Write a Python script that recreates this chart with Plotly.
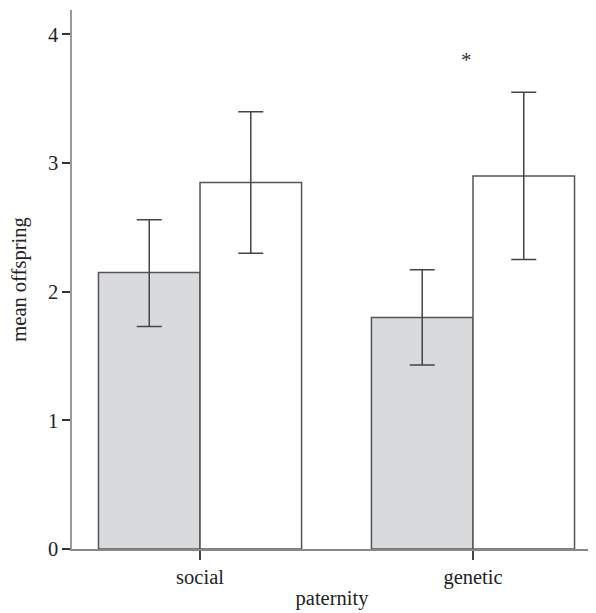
import plotly.graph_objects as go

categories = ["social", "genetic"]
group_a_mean = [2.15, 1.80]
group_a_upper = [2.56, 2.17]
group_a_lower = [1.73, 1.43]
group_b_mean = [2.85, 2.90]
group_b_upper = [3.40, 3.55]
group_b_lower = [2.30, 2.25]
y_ticks = [0, 1, 2, 3, 4]
star_category = "genetic"
star_y = 3.80

FONT = "Liberation Serif, Times New Roman, serif"

def err(mean, up, lo):
    return dict(type="data", symmetric=False,
                array=[u - m for u, m in zip(up, mean)],
                arrayminus=[m - l for m, l in zip(mean, lo)],
                color="#444444", thickness=1.5, width=12.5)

fig = go.Figure()
fig.add_trace(go.Bar(x=categories, y=group_a_mean, marker=dict(color="#d9dadc", line=dict(color="#555555", width=1.5)),
                     error_y=err(group_a_mean, group_a_upper, group_a_lower), showlegend=False))
fig.add_trace(go.Bar(x=categories, y=group_b_mean, marker=dict(color="#ffffff", line=dict(color="#555555", width=1.5)),
                     error_y=err(group_b_mean, group_b_upper, group_b_lower), showlegend=False))

fig.add_annotation(x=star_category, y=star_y, text="*", showarrow=False, xshift=-6,
                   font=dict(family=FONT, size=21, color="#333333"))

fig.update_layout(
    width=588, height=605,
    margin=dict(l=64, r=4, t=2, b=64),
    paper_bgcolor="white", plot_bgcolor="white",
    barmode="group", bargap=0.256, bargroupgap=0,
    font=dict(family=FONT, size=20.5, color="#222222"),
    xaxis=dict(range=[-0.469, 1.436], showline=True, linecolor="#888888", linewidth=1.5,
               ticks="outside", ticklen=9, tickcolor="#444444", tickwidth=1.5,
               showgrid=False, zeroline=False,
               title=dict(text="paternity", font=dict(size=20.5), standoff=2)),
    yaxis=dict(range=[0, 4.19], tickvals=y_ticks, showline=True, linecolor="#999999", linewidth=1.5,
               ticks="outside", ticklen=8, tickcolor="#333333", tickwidth=1.5,
               showgrid=False, zeroline=False,
               title=dict(text="mean offspring", font=dict(size=20.5), standoff=18)),
)

fig.write_html("out.html")
